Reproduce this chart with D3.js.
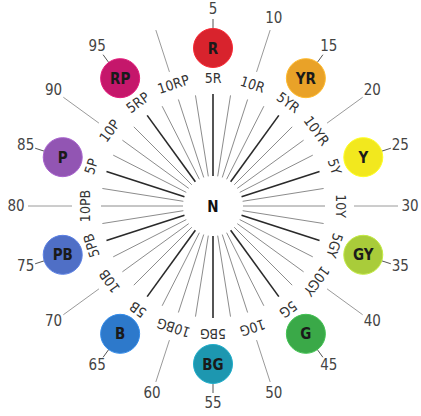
<!DOCTYPE html>
<html>
<head>
<meta charset="utf-8">
<script src="https://cdn.jsdelivr.net/npm/d3@7"></script>
<style>
  body { margin: 0; background: #ffffff; }
  svg text { font-family: "Liberation Sans Narrow", "DejaVu Sans Condensed", "Liberation Sans", Arial, sans-serif; }
</style>
</head>
<body>
<script>
// hue families, one circle each, at the 5-step of the family
var families = ["R", "YR", "Y", "GY", "G", "BG", "B", "PB", "P", "RP"];
var familyColors = ["#d8232d", "#e9a228", "#f2e81e", "#a9cc3a", "#3aa948", "#1d97b0", "#2d79cb", "#4f6fc6", "#9255b3", "#c5176b"];
var principalNumbers = [5, 15, 25, 35, 45, 55, 65, 75, 85, 95];
// the 10-step hues, number label at the end of the line
var tenNumbers = [10, 20, 30, 40, 50, 60, 70, 80, 90, 100];
var tenNumberLabels = ["10", "20", "30", "40", "50", "60", "70", "80", "90", ""];
// hue names written along the lines
var hueNames = ["5R", "10R", "5YR", "10YR", "5Y", "10Y", "5GY", "10GY", "5G", "10G",
                "5BG", "10BG", "5B", "10B", "5PB", "10PB", "5P", "10P", "5RP", "10RP"];
var hueNamePos = [5, 10, 15, 20, 25, 30, 35, 40, 45, 50, 55, 60, 65, 70, 75, 80, 85, 90, 95, 100];
// 40 hue steps of the circle
var hueSteps = d3.range(2.5, 100.1, 2.5);

var width = 421, height = 416;
var cx = 213, cy = 206;

// hue number -> angle (degrees, clockwise from top)
var angle = d3.scaleLinear().domain([5, 105]).range([0, 360]);

function pt(h, r) {
  var a = angle(h) * Math.PI / 180;
  return [cx + r * Math.sin(a), cy - r * Math.cos(a)];
}

var svg = d3.select("body").append("svg")
    .attr("width", width)
    .attr("height", height);

var g = svg.append("g");

// radial lines
g.selectAll("line.spoke")
    .data(hueSteps)
    .enter().append("line")
    .attr("class", "spoke")
    .attr("x1", function(d) { return pt(d, 30)[0]; })
    .attr("y1", function(d) { return pt(d, 30)[1]; })
    .attr("x2", function(d) { return pt(d, 112)[0]; })
    .attr("y2", function(d) { return pt(d, 112)[1]; })
    .style("stroke", function(d) { return d % 10 == 5 ? "#2a2a2a" : "#8c8c8c"; })
    .style("stroke-width", function(d) { return d % 10 == 5 ? 1.6 : 1; });

// outer lines to the 10-step numbers
g.selectAll("line.outer")
    .data(tenNumbers)
    .enter().append("line")
    .attr("class", "outer")
    .attr("x1", function(d) { return pt(d, 141)[0]; })
    .attr("y1", function(d) { return pt(d, 141)[1]; })
    .attr("x2", function(d) { return pt(d, 185)[0]; })
    .attr("y2", function(d) { return pt(d, 185)[1]; })
    .style("stroke", "#9a9a9a")
    .style("stroke-width", 1);

// short leaders from circles to numbers
g.selectAll("line.leader")
    .data(principalNumbers)
    .enter().append("line")
    .attr("class", "leader")
    .attr("x1", function(d) { return pt(d, 176)[0]; })
    .attr("y1", function(d) { return pt(d, 176)[1]; })
    .attr("x2", function(d) { return pt(d, 187)[0]; })
    .attr("y2", function(d) { return pt(d, 187)[1]; })
    .style("stroke", "#555")
    .style("stroke-width", 1);

// white centre
g.append("circle")
    .attr("cx", cx).attr("cy", cy).attr("r", 29)
    .style("fill", "#ffffff");

g.append("text")
    .attr("x", cx).attr("y", cy + 1)
    .attr("text-anchor", "middle")
    .attr("dominant-baseline", "middle")
    .style("font-weight", "bold")
    .style("font-size", "15px")
    .style("fill", "#111")
    .text("N");

// hue names, tangential
g.selectAll("text.hue")
    .data(hueNames)
    .enter().append("text")
    .attr("class", "hue")
    .attr("transform", function(d, i) {
      var p = pt(hueNamePos[i], 127);
      return "translate(" + p[0] + "," + p[1] + ") rotate(" + angle(hueNamePos[i]) + ")";
    })
    .attr("text-anchor", "middle")
    .attr("dominant-baseline", "middle")
    .style("font-size", "14px")
    .style("fill", "#333")
    .text(function(d) { return d; });

// family circles
var fam = g.selectAll("g.fam")
    .data(families)
    .enter().append("g")
    .attr("class", "fam")
    .attr("transform", function(d, i) {
      var p = pt(principalNumbers[i], 158);
      return "translate(" + p[0] + "," + p[1] + ")";
    });

fam.append("circle")
    .attr("r", 19.5)
    .style("fill", function(d, i) { return familyColors[i]; })
    .style("stroke", function(d, i) { return d3.color(familyColors[i]).brighter(0.4); })
    .style("stroke-width", 1);

fam.append("text")
    .attr("y", 1)
    .attr("text-anchor", "middle")
    .attr("dominant-baseline", "middle")
    .style("font-weight", "bold")
    .style("font-size", "15px")
    .style("fill", "#1a1a1a")
    .text(function(d) { return d; });

// numbers
g.selectAll("text.pnum")
    .data(principalNumbers)
    .enter().append("text")
    .attr("class", "pnum")
    .attr("x", function(d) { return pt(d, 197)[0]; })
    .attr("y", function(d) { return pt(d, 197)[1]; })
    .attr("text-anchor", "middle")
    .attr("dominant-baseline", "middle")
    .style("font-size", "15px")
    .style("fill", "#444")
    .text(function(d) { return d; });

g.selectAll("text.tnum")
    .data(tenNumbers)
    .enter().append("text")
    .attr("class", "tnum")
    .attr("x", function(d) { return pt(d, 197)[0]; })
    .attr("y", function(d) { return pt(d, 197)[1]; })
    .attr("text-anchor", "middle")
    .attr("dominant-baseline", "middle")
    .style("font-size", "15px")
    .style("fill", "#444")
    .text(function(d, i) { return tenNumberLabels[i]; });
</script>
</body>
</html>
